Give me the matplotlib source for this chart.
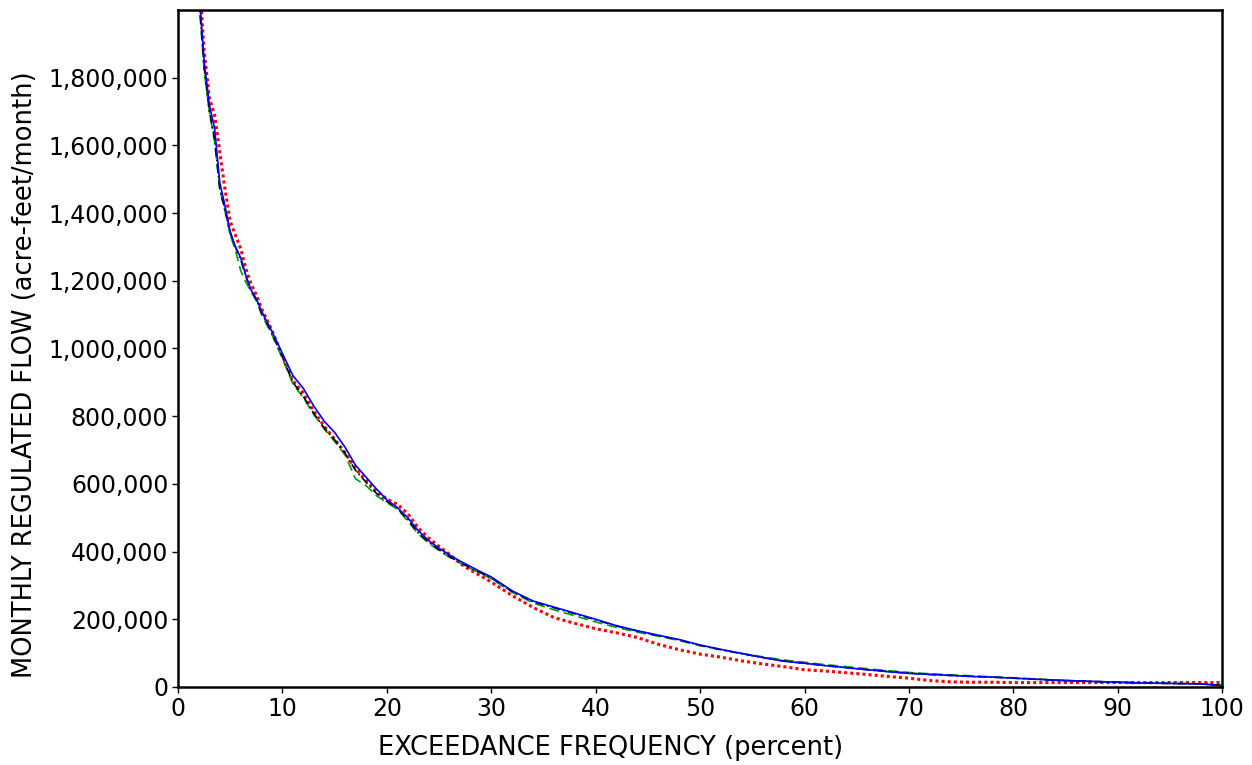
import matplotlib
matplotlib.use("Agg")
from matplotlib import pyplot as plt
from matplotlib.ticker import FuncFormatter

plt.rcParams["font.family"] = ["DejaVu Sans"]

# exceedance frequency (percent)
pct = [2.0, 2.5, 3.0, 3.5, 4.0, 4.5, 5.0, 5.5, 6.0, 6.5, 7.0, 7.5, 8.0, 9.0,
       10, 11, 12, 13, 14, 15, 16, 17, 18, 19, 20, 21, 22, 23, 24, 25, 26,
       27, 28, 29, 30, 32, 34, 36, 38, 40, 42, 44, 46, 48, 50, 52, 54, 56,
       58, 60, 62, 64, 66, 68, 70, 72, 74, 76, 78, 80, 82, 84, 86, 88, 90,
       92, 94, 96, 98, 100]

# monthly regulated flow (acre-feet/month)
flow_blue = [2060000, 1850000, 1720000, 1650000, 1490000, 1420000, 1345000,
             1300000, 1268000, 1215000, 1172000, 1147000, 1110000, 1050000,
             985000, 920000, 882000, 830000, 785000, 752000, 708000, 655000,
             620000, 585000, 553000, 530000, 500000, 462000, 432000, 410000,
             390000, 372000, 356000, 340000, 325000, 284000, 254000, 236000,
             218000, 200000, 181000, 166000, 153000, 140000, 124000, 111000,
             99000, 87000, 76000, 70000, 63000, 57000, 51000, 45000, 40000,
             37000, 34000, 31000, 29000, 26000, 23000, 20000, 18000, 16000,
             14000, 12000, 11000, 10000, 9000, 3000]

flow_black = [2040000, 1830000, 1700000, 1620000, 1470000, 1410000, 1340000,
              1300000, 1262000, 1212000, 1170000, 1145000, 1105000, 1045000,
              975000, 900000, 858000, 808000, 765000, 730000, 690000, 640000,
              605000, 572000, 548000, 528000, 495000, 455000, 428000, 405000,
              385000, 368000, 352000, 337000, 322000, 282000, 252000, 234000,
              216000, 198000, 180000, 165000, 152000, 139000, 123000, 110000,
              98000, 87000, 77000, 70000, 63000, 57000, 51000, 46000, 41000,
              37000, 34000, 31000, 29000, 26000, 23000, 20000, 18000, 16000,
              14000, 12000, 11000, 10000, 9000, 5000]

flow_green = [2030000, 1820000, 1700000, 1610000, 1470000, 1405000, 1335000,
              1290000, 1230000, 1195000, 1168000, 1140000, 1100000, 1040000,
              970000, 895000, 855000, 805000, 762000, 725000, 685000, 615000,
              595000, 565000, 545000, 525000, 490000, 452000, 425000, 403000,
              383000, 366000, 350000, 335000, 320000, 280000, 248000, 228000,
              210000, 192000, 176000, 162000, 150000, 137000, 122000, 110000,
              99000, 89000, 80000, 73000, 66000, 60000, 54000, 48000, 43000,
              39000, 36000, 33000, 30000, 27000, 24000, 21000, 18000, 16000,
              14000, 12000, 11000, 10000, 9000, 6000]

flow_red = [2100000, 1880000, 1740000, 1690000, 1580000, 1470000, 1375000,
            1335000, 1295000, 1235000, 1190000, 1158000, 1118000, 1053000,
            978000, 905000, 868000, 815000, 770000, 732000, 692000, 645000,
            610000, 580000, 555000, 540000, 512000, 470000, 440000, 415000,
            392000, 365000, 345000, 328000, 310000, 270000, 235000, 205000,
            188000, 172000, 160000, 146000, 126000, 110000, 97000, 88000,
            77000, 68000, 60000, 51000, 47000, 42000, 37000, 31000, 26000,
            19000, 15000, 14000, 14000, 13000, 13000, 13000, 13000, 13000,
            13000, 13000, 13000, 13000, 13000, 13000]

fig = plt.figure(figsize=(12.52, 7.65), dpi=100)
ax = fig.add_axes([0.1422, 0.102, 0.834, 0.885])

ax.plot(pct, flow_red, color="#ff0000", linestyle=(0, (1, 1)), linewidth=2.2)
ax.plot(pct, flow_green, color="#00a000", linestyle=(0, (6, 3)), linewidth=1.2)
ax.plot(pct, flow_black, color="black", linestyle=(0, (5, 2, 1, 2)), linewidth=1.2)
ax.plot(pct, flow_blue, color="#0000ff", linewidth=1.2)

ax.set_xlim(0, 100)
ax.set_ylim(0, 2000000)
ax.set_xticks(range(0, 101, 10))
ax.set_yticks(range(0, 1800001, 200000))
ax.yaxis.set_major_formatter(FuncFormatter(lambda v, p: f"{int(v):,}"))

ax.tick_params(axis="both", labelsize=17, length=4, width=1, direction="out", pad=3)
for s in ax.spines.values():
    s.set_linewidth(1.8)

ax.set_xlabel("EXCEEDANCE FREQUENCY (percent)", fontsize=18.5)
ax.set_ylabel("MONTHLY REGULATED FLOW (acre-feet/month)", fontsize=18.5)
ax.xaxis.set_label_coords(0.414, -0.071)
ax.yaxis.set_label_coords(-0.134, 0.461)

fig.savefig("out.png", dpi=100)
